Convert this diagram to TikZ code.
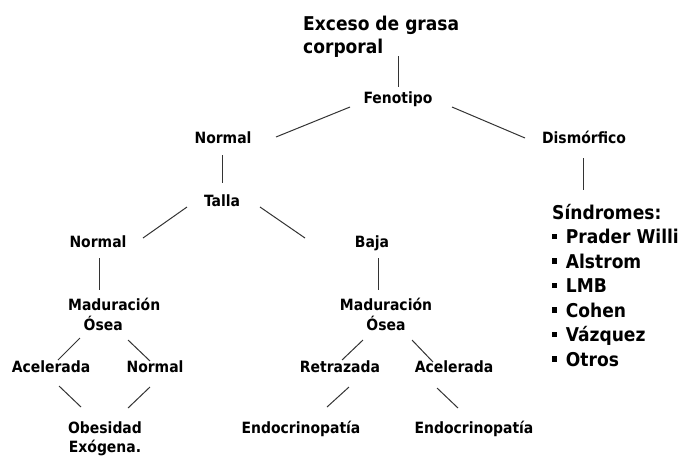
\documentclass[tikz,border=0pt]{standalone}
\usepackage{fontspec}
\setmainfont{DejaVu Sans Condensed}
\newcommand{\cuadro}{\rule[.22em]{.27em}{.3em}\hspace{.45em}}
\tikzset{
    %Define style for the small labels
    etiq/.style={
           inner sep=0pt,
           anchor=base,
           font=\bfseries\fontsize{15.5}{20}\selectfont},
    %Define style for the big texts
    grande/.style={
           inner sep=0pt,
           anchor=base west,
           align=left,
           font=\bfseries\fontsize{19}{23}\selectfont},
    % Define line style
    linea/.style={
           line width=1pt,
           draw=black!80}
}
\begin{document}
\begin{tikzpicture}[x=1pt,y=-1pt]
\useasboundingbox (0,0) rectangle (684,456);

 %nodes (multi-line nodes sit on the baseline of their last line)
\node[grande](title) at (303,53){Exceso de grasa\\corporal};
\node[etiq](fen) at (398,103){Fenotipo};
\node[etiq](nor1) at (223,143){Normal};
\node[etiq](dis) at (584,143){Dismórfico};
\node[grande,font=\bfseries\fontsize{19}{24.5}\selectfont](sin) at (552,366){Síndromes:\\
  \cuadro Prader Willi\\ \cuadro Alstrom\\ \cuadro LMB\\ \cuadro Cohen\\ \cuadro Vázquez\\ \cuadro Otros};
\node[etiq](talla) at (222,206){Talla};
\node[etiq](nor2) at (98,247){Normal};
\node[etiq](baja) at (372,247){Baja};
\node[etiq,anchor=base west,align=left](madl) at (68,330){Maduración\\\hspace*{1em}Ósea};
\node[etiq,align=center](madr) at (386,330){Maduración\\Ósea};
\node[etiq](acel) at (51,372){Acelerada};
\node[etiq](norl) at (155,372){Normal};
\node[etiq](ret) at (340,372){Retrazada};
\node[etiq](acer) at (454,372){Acelerada};
\node[etiq,align=center,font=\bfseries\fontsize{15.5}{19}\selectfont](obe) at (105,452){Obesidad\\Exógena.};
\node[etiq](endl) at (301,433){Endocrinopatía};
\node[etiq](endr) at (474,433){Endocrinopatía};

 %connectors
\path[linea]
    ([shift={(95,3)}]title.base west) edge ([shift={(0,-16)}]fen.base)
    ([shift={(-48,4)}]fen.base) edge ([shift={(53,-6)}]nor1.base)
    ([shift={(54,4)}]fen.base) edge ([shift={(-59,-5)}]dis.base)
    ([shift={(-1,15)}]dis.base) edge ([shift={(31,-176)}]sin.base west)
    ([shift={(-1,12)}]nor1.base) edge ([shift={(0,-23)}]talla.base)
    ([shift={(-35,1)}]talla.base) edge ([shift={(45,-9)}]nor2.base)
    ([shift={(38,1)}]talla.base) edge ([shift={(-67,-9)}]baja.base)
    ([shift={(1,11)}]nor2.base) edge ([shift={(31,-40)}]madl.base west)
    ([shift={(6,11)}]baja.base) edge ([shift={(-8,-40)}]madr.base)
    ([shift={(12,8)}]madl.base west) edge ([shift={(7,-12)}]acel.base)
    ([shift={(60,10)}]madl.base west) edge ([shift={(-5,-11)}]norl.base)
    ([shift={(8,14)}]acel.base) edge ([shift={(-24,-45)}]obe.base)
    ([shift={(-5,15)}]norl.base) edge ([shift={(23,-44)}]obe.base)
    ([shift={(-23,10)}]madr.base) edge ([shift={(2,-12)}]ret.base)
    ([shift={(26,10)}]madr.base) edge ([shift={(-21,-10)}]acer.base)
    ([shift={(9,15)}]ret.base) edge ([shift={(26,-26)}]endl.base)
    ([shift={(-17,16)}]acer.base) edge ([shift={(-16,-25)}]endr.base);

\end{tikzpicture}
\end{document}
